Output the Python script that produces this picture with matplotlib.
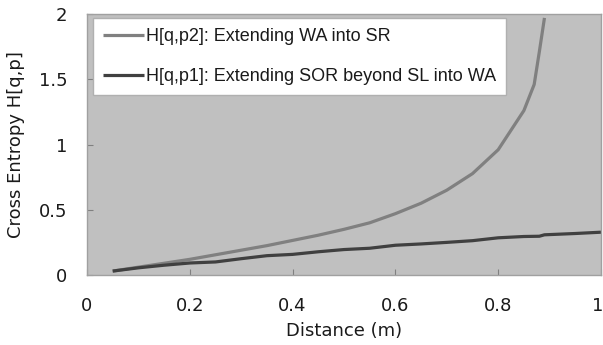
import matplotlib
matplotlib.use("Agg")
import matplotlib.pyplot as plt
from matplotlib.transforms import ScaledTranslation

x_p2 = [0.05, 0.10, 0.15, 0.20, 0.25, 0.30, 0.35, 0.40, 0.45, 0.50,
        0.55, 0.60, 0.65, 0.70, 0.75, 0.80, 0.85, 0.87, 0.88, 0.89]
y_p2 = [0.03, 0.06, 0.09, 0.12, 0.155, 0.19, 0.225, 0.265, 0.305, 0.35,
        0.40, 0.47, 0.55, 0.65, 0.777, 0.96, 1.26, 1.46, 1.71, 1.97]

x_p1 = [0.05, 0.10, 0.15, 0.20, 0.25, 0.30, 0.35, 0.40, 0.45, 0.50,
        0.55, 0.60, 0.65, 0.70, 0.75, 0.80, 0.85, 0.88, 0.89, 0.95, 1.00]
y_p1 = [0.03, 0.055, 0.075, 0.092, 0.10, 0.125, 0.148, 0.158, 0.178, 0.195,
        0.205, 0.228, 0.238, 0.25, 0.263, 0.285, 0.295, 0.297, 0.308, 0.318, 0.328]

label_p2 = "H[q,p2]: Extending WA into SR"
label_p1 = "H[q,p1]: Extending SOR beyond SL into WA"
x_ticks = [0, 0.2, 0.4, 0.6, 0.8, 1]
x_tick_labels = ["0", "0.2", "0.4", "0.6", "0.8", "1"]
y_ticks = [0, 0.5, 1, 1.5, 2]
y_tick_labels = ["0", "0.5", "1", "1.5", "2"]

plt.rcParams['font.family'] = ['DejaVu Sans']

fig = plt.figure(figsize=(6.03, 3.45), dpi=100)
ax = fig.add_axes([87/603, 1 - 275/345, (601-87)/603, (275-14)/345])
ax.set_facecolor('#c0c0c0')

ax.plot(x_p2, y_p2, color='#808080', lw=2.3, label=label_p2, solid_capstyle='butt')
ax.plot(x_p1, y_p1, color='#404040', lw=2.3, label=label_p1, solid_capstyle='butt')

ax.set_xlim(0, 1)
ax.set_ylim(0, 2)
ax.set_xticks(x_ticks)
ax.set_xticklabels(x_tick_labels)
ax.set_yticks(y_ticks)
ax.set_yticklabels(y_tick_labels)
ax.tick_params(direction='in', length=4, color='#808080', labelsize=13,
               labelcolor='#1a1a1a')
ax.tick_params(axis='x', pad=16)
ax.tick_params(axis='y', pad=14)
for s in ax.spines.values():
    s.set_color('#a0a0a0')
    s.set_linewidth(1.0)

# nudge last x tick label so it stays inside the figure
last = ax.get_xticklabels()[-1]
last.set_transform(last.get_transform() + ScaledTranslation(-3/100, 0, fig.dpi_scale_trans))

ax.set_xlabel("Distance (m)", fontsize=13, color='#1a1a1a', labelpad=5)
ax.set_ylabel("Cross Entropy H[q,p]", fontsize=13, color='#1a1a1a', labelpad=10)

leg = ax.legend(loc='upper left', bbox_to_anchor=(6/514, 1 - 4/261), borderaxespad=0,
                fancybox=False, framealpha=1, edgecolor='#b0b0b0', facecolor='white',
                prop={'family': 'Liberation Sans', 'size': 13.0}, handlelength=2.3,
                handletextpad=0.1, labelspacing=1.3, borderpad=0.55)
leg.get_frame().set_linewidth(1.0)
for t in leg.get_texts():
    t.set_color('#1a1a1a')

fig.savefig("out.png", dpi=100)
